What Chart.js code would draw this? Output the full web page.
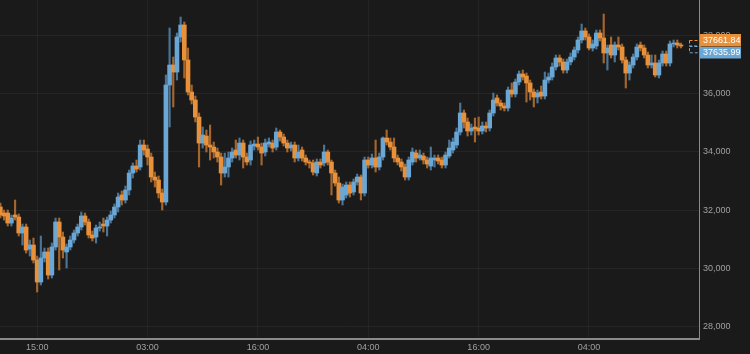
<!DOCTYPE html>
<html>
<head>
<meta charset="utf-8">
<script src="https://cdn.jsdelivr.net/npm/chart.js@4.4.1/dist/chart.umd.min.js"></script>
<style>
  html, body { margin: 0; padding: 0; background: #1a1a1a; }
  #wrap { width: 750px; height: 354px; position: relative; }
</style>
</head>
<body>
<div id="wrap"><canvas id="c"></canvas></div>
<script>
// ---- data ----
const openPrices = [32111,31905,31905,31561,31836,31767,31218,31424,30669,30806,30291,29536,30360,30566,29776,30738,31596,31081,30566,30738,
30978,31218,31424,31802,31596,31150,31081,31390,31527,31458,31664,31836,32111,32523,32351,32694,33278,33518,33484,34239,
34102,33827,33140,33037,32591,32282,36299,36986,36745,37947,38359,37157,36059,35784,35200,34307,34548,34239,34170,33999,
33827,33278,33484,33793,34067,33896,34307,33827,33724,34205,34273,34170,33999,34273,34307,34170,34685,34514,34307,34136,
34239,33793,34067,33793,33655,33621,33278,33655,33621,33999,33655,33278,32934,32351,32523,32866,32626,32969,33140,32591,
33724,33552,33793,33484,33827,34479,34342,34170,33793,33655,33484,33140,33655,33964,33793,33861,33724,33518,33724,33793,
33724,33552,33861,34067,34239,34685,35338,35029,34720,34857,34823,34720,34891,34823,35338,35853,35681,35578,35509,36127,
35990,36402,36677,36608,36368,36059,35887,36059,35921,36470,36574,36917,37226,37089,36814,37089,37260,37500,37844,38153,
37947,37569,37638,38084,37913,37398,37672,37329,37672,37604,37157,36711,36986,37260,37672,37569,37329,36986,37054,36642,
37054,37363,37054,37707,37741,37672];
const highPrices = [32248,32007,32007,31836,32351,31870,31527,31527,30978,31046,30429,31115,30703,30703,30875,31733,31733,31252,30841,31115,
31321,31527,31939,31905,31699,31287,31493,31596,31733,31767,31973,32214,32591,32660,32832,33381,33621,33724,34410,34410,
34239,33964,33312,33175,32729,36642,38256,37260,38084,38633,38462,37569,36299,35921,35338,34857,34754,34926,34342,34136,
33964,33964,33999,34136,34410,34479,34410,33964,34376,34410,34514,34307,34445,34479,34410,34823,34754,34617,34410,34342,
34342,34239,34170,33896,33724,33724,33758,33758,34239,34067,33724,33381,33140,32900,32969,32969,33072,33243,33209,33827,
33827,33930,34410,33964,34514,34754,34479,34479,33896,33758,33587,33827,34136,34067,34067,33964,33827,34170,33896,33896,
33827,33999,34410,34479,34823,35681,35440,35166,34960,35166,35200,35029,35029,35440,36024,35956,35784,35681,36230,36368,
36505,36780,36814,36711,36470,36162,36127,36265,36745,36711,37054,37329,37329,37192,37192,37398,37604,37947,38393,38256,
38050,37844,38187,38187,38736,37672,37947,37775,37947,37707,37260,37089,37363,37707,37775,37672,37432,37329,37329,37157,
37466,37466,37809,37844,37844,37741];
const lowPrices = [31733,31664,31458,31458,31664,31115,30806,30532,30429,30189,29193,29433,30223,29639,29673,30634,29948,30360,30017,30634,
30875,31115,31321,31493,31046,30944,30875,31287,31252,31115,31561,31733,31939,32179,32248,32523,33106,33312,33381,33896,
33552,32969,32797,32420,32007,32179,34857,35544,36470,37775,36539,35956,35647,35029,33484,34136,33999,33724,33793,33655,
32866,33140,33140,33655,33793,33724,33449,33552,33552,34067,34067,33552,33861,34170,33999,34067,34376,34205,33999,34033,
33655,33690,33690,33552,33449,33209,33175,33449,33518,33552,32523,32832,32248,32179,32420,32454,32523,32866,32351,32488,
33449,33449,33312,33381,33724,34239,34067,33655,33552,33346,33037,33037,33552,33655,33724,33587,33449,33381,33484,33587,
33449,33449,33793,33964,34136,34582,34823,34548,34582,34342,34582,34617,34685,34720,35235,35578,35440,35406,35406,35887,
35887,36299,36470,35715,35784,35544,35681,35818,35818,36368,36470,36814,36951,36711,36711,36986,37157,37398,37741,37844,
37500,37466,37535,37809,37054,36814,37226,37089,37500,37054,36196,36470,36883,37157,37466,37226,36883,36883,36574,36539,
36951,36951,36951,37604,37569,37569];
const closePrices = [31836,31802,31561,31733,31767,31218,31424,30634,30806,30291,29536,30360,30566,29776,30738,31596,31081,30634,30738,30978,
31218,31424,31802,31596,31150,31046,31390,31424,31458,31664,31836,32111,32454,32351,32694,33278,33518,33415,34239,34067,
33827,33140,33037,32591,32282,36299,36986,36745,37947,38359,37157,36059,35784,35200,34307,34582,34239,34170,33999,33827,
33278,33484,33793,33999,33896,34307,33827,33655,34239,34273,34170,33964,34307,34342,34136,34685,34514,34307,34136,34239,
33793,33999,33793,33655,33621,33312,33655,33552,33999,33655,33278,32934,32351,32797,32866,32591,32969,33140,32591,33724,
33552,33793,33484,33827,34479,34342,34170,33793,33655,33484,33140,33724,33999,33793,33896,33724,33587,33793,33793,33690,
33552,33896,34136,34342,34685,35338,35029,34720,34823,34788,34720,34891,34823,35338,35784,35681,35578,35509,36127,35990,
36402,36677,36574,36368,36059,35887,36024,35921,36470,36574,36917,37226,37089,36814,37089,37260,37500,37844,38153,37947,
37569,37707,38084,37913,37398,37569,37329,37672,37604,37157,36711,36986,37260,37604,37569,37329,36986,37054,36642,37054,
37363,37054,37707,37741,37672,37638];

const timeTickPositions = [10, 40, 70, 100, 130, 160];
const timeTickLabels = ['15:00', '03:00', '16:00', '04:00', '16:00', '04:00'];
const priceTicks = [28000, 30000, 32000, 34000, 36000, 38000];

const lastPriceAsk = 37661.84;   // orange tag
const lastPriceBid = 37635.99;   // blue tag
const pendingIndex = 188.6;
const pendingAskRange = [37661.84, 37850];
const pendingBidRange = [37420, 37635.99];

// ---- styling ----
const UP = '#6ba7d4', DOWN = '#e8913a';
const UP_WICK = '#4b7596', DOWN_WICK = '#a4662d';
const FONT = '"Liberation Sans", Arial, sans-serif';

const bodies = openPrices.map((o, i) => ({ x: i, y: [o, closePrices[i]] }));
const wicks = lowPrices.map((l, i) => ({ x: i, y: [l, highPrices[i]] }));
const isUp = i => closePrices[i] >= openPrices[i];

const bgPlugin = {
  id: 'bg',
  beforeDraw(chart) {
    const ctx = chart.ctx;
    ctx.save();
    ctx.fillStyle = '#1a1a1a';
    ctx.fillRect(0, 0, chart.width, chart.height);
    ctx.restore();
  }
};

const tagPlugin = {
  id: 'tags',
  afterDraw(chart) {
    const ctx = chart.ctx;
    const y = chart.scales.y, x = chart.scales.x;
    const area = chart.chartArea;
    ctx.save();
    const cx = x.getPixelForValue(pendingIndex);
    const w = 11;
    ctx.setLineDash([3, 2]);
    ctx.lineWidth = 1;
    ctx.strokeStyle = DOWN;
    let y1 = y.getPixelForValue(pendingAskRange[1]), y2 = y.getPixelForValue(pendingAskRange[0]);
    ctx.strokeRect(Math.round(cx - w / 2) + 0.5, Math.round(y1) + 0.5, w, y2 - y1);
    ctx.strokeStyle = UP;
    y1 = y.getPixelForValue(pendingBidRange[1]); y2 = y.getPixelForValue(pendingBidRange[0]);
    ctx.strokeRect(Math.round(cx - w / 2) + 0.5, Math.round(y1) + 0.5, w, y2 - y1);
    ctx.setLineDash([]);
    const pa = y.getPixelForValue(lastPriceAsk), pb = y.getPixelForValue(lastPriceBid);
    const mid = (pa + pb) / 2;
    const left = area.right + 1, tw = 41;
    ctx.font = '9px ' + FONT;
    ctx.textBaseline = 'middle';
    ctx.textAlign = 'left';
    ctx.fillStyle = DOWN;
    ctx.fillRect(left, Math.round(mid - 12), 41, 12.5);
    ctx.fillStyle = '#ffffff';
    ctx.fillText(lastPriceAsk.toFixed(2), left + 3, Math.round(mid - 12) + 6.5);
    ctx.fillStyle = UP;
    ctx.fillRect(left, Math.round(mid + 1.5), 41, 11.5);
    ctx.fillStyle = '#ffffff';
    ctx.fillText(lastPriceBid.toFixed(2), left + 3, Math.round(mid + 1.5) + 6);
    ctx.restore();
  }
};

new Chart(document.getElementById('c'), {
  type: 'bar',
  data: {
    datasets: [
      {
        label: 'body',
        data: bodies,
        order: 0,
        grouped: false,
        barThickness: 4,
        minBarLength: 1,
        borderWidth: 0,
        borderSkipped: false,
        backgroundColor: ctx => isUp(ctx.dataIndex) ? UP : DOWN
      },
      {
        label: 'wick',
        data: wicks,
        order: 1,
        grouped: false,
        barThickness: 1.5,
        borderWidth: 0,
        borderSkipped: false,
        backgroundColor: ctx => isUp(ctx.dataIndex) ? UP_WICK : DOWN_WICK
      }
    ]
  },
  options: {
    responsive: true,
    maintainAspectRatio: false,
    animation: false,
    devicePixelRatio: 1,
    layout: { padding: 0 },
    plugins: { legend: { display: false }, tooltip: { enabled: false } },
    scales: {
      x: {
        type: 'linear',
        min: -0.1,
        max: 189.9,
        offset: false,
        afterBuildTicks: s => { s.ticks = timeTickPositions.map(v => ({ value: v })); },
        afterFit: s => { s.height = 15; s.paddingLeft = 0; s.paddingRight = 0; },
        ticks: {
          autoSkip: false,
          maxRotation: 0,
          padding: 3,
          color: '#a0a0a0',
          font: { family: FONT, size: 9 },
          callback: (v) => { const k = timeTickPositions.indexOf(v); return k >= 0 ? timeTickLabels[k] : ''; }
        },
        grid: { color: 'rgba(255,255,255,0.045)', drawTicks: false, offset: false },
        border: { color: '#8a8a8a', width: 2 }
      },
      y: {
        type: 'linear',
        position: 'right',
        min: 27580,
        max: 39217,
        afterBuildTicks: s => { s.ticks = priceTicks.map(v => ({ value: v })); },
        afterFit: s => { s.width = 51; s.paddingTop = 0; s.paddingBottom = 0; },
        ticks: {
          padding: 4,
          color: '#a0a0a0',
          font: { family: FONT, size: 9 },
          callback: v => v.toLocaleString('en-US')
        },
        grid: { color: 'rgba(255,255,255,0.05)', drawTicks: false },
        border: { color: '#8a8a8a', width: 1 }
      }
    }
  },
  plugins: [bgPlugin, tagPlugin]
});
</script>
</body>
</html>
